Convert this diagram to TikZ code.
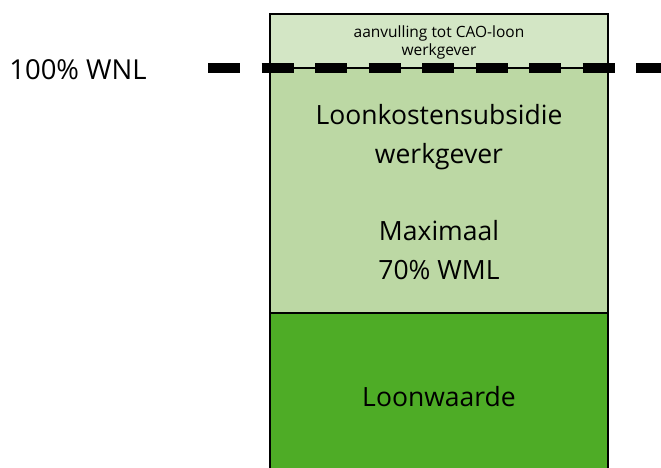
\documentclass[tikz,border=0pt]{standalone}
\usepackage{fontspec}
\setmainfont{Open Sans}
\definecolor{topgreen}{RGB}{211,230,197}
\definecolor{midgreen}{RGB}{188,216,164}
\definecolor{lowgreen}{RGB}{78,172,38}

\begin{document}
\begin{tikzpicture}[x=1pt,y=-1pt]
    \useasboundingbox (0,0) rectangle (661,468);

    % Define coordinates
    \coordinate (TL) at (270,14);
    \coordinate (TR) at (608,14);
    \coordinate (WL) at (270,68);
    \coordinate (WR) at (608,68);
    \coordinate (ML) at (270,313);
    \coordinate (MR) at (608,313);
    \coordinate (BL) at (270,470);
    \coordinate (BR) at (608,470);

    % Fill the three parts of the bar
    \fill[topgreen] (TL) rectangle (WR);
    \fill[midgreen] (WL) rectangle (MR);
    \fill[lowgreen] (ML) rectangle (BR);

    % Draw the outline of the bar
    \draw[line width=2pt] (BL) -- (TL) -- (TR) -- (BR);
    \draw[line width=1.5pt] (WL) -- (WR);
    \draw[line width=2pt] (ML) -- (MR);

    % Dashed 100% line
    \coordinate (DS) at (208,68);
    \coordinate (DE) at (668,68);
    \draw[line width=10pt, dash pattern=on 32pt off 21.5pt] (DS) -- (DE);

    % Labels
    \node[font=\fontsize{27.5}{30}\selectfont] (wnl) at (78,70) {100\% WNL};
    \node[align=center, font=\fontsize{15.5}{18}\selectfont] (aanv) at (439,42.5)
        {aanvulling tot CAO-loon\\werkgever};
    \node[align=center, font=\fontsize{26.5}{39}\selectfont] (lks) at (439,137)
        {Loonkostensubsidie\\werkgever};
    \node[align=center, font=\fontsize{26.5}{39}\selectfont] (max) at (439,250)
        {Maximaal\\70\% WML};
    \node[font=\fontsize{26.5}{30}\selectfont] (lw) at (439,397) {Loonwaarde};
\end{tikzpicture}
\end{document}
